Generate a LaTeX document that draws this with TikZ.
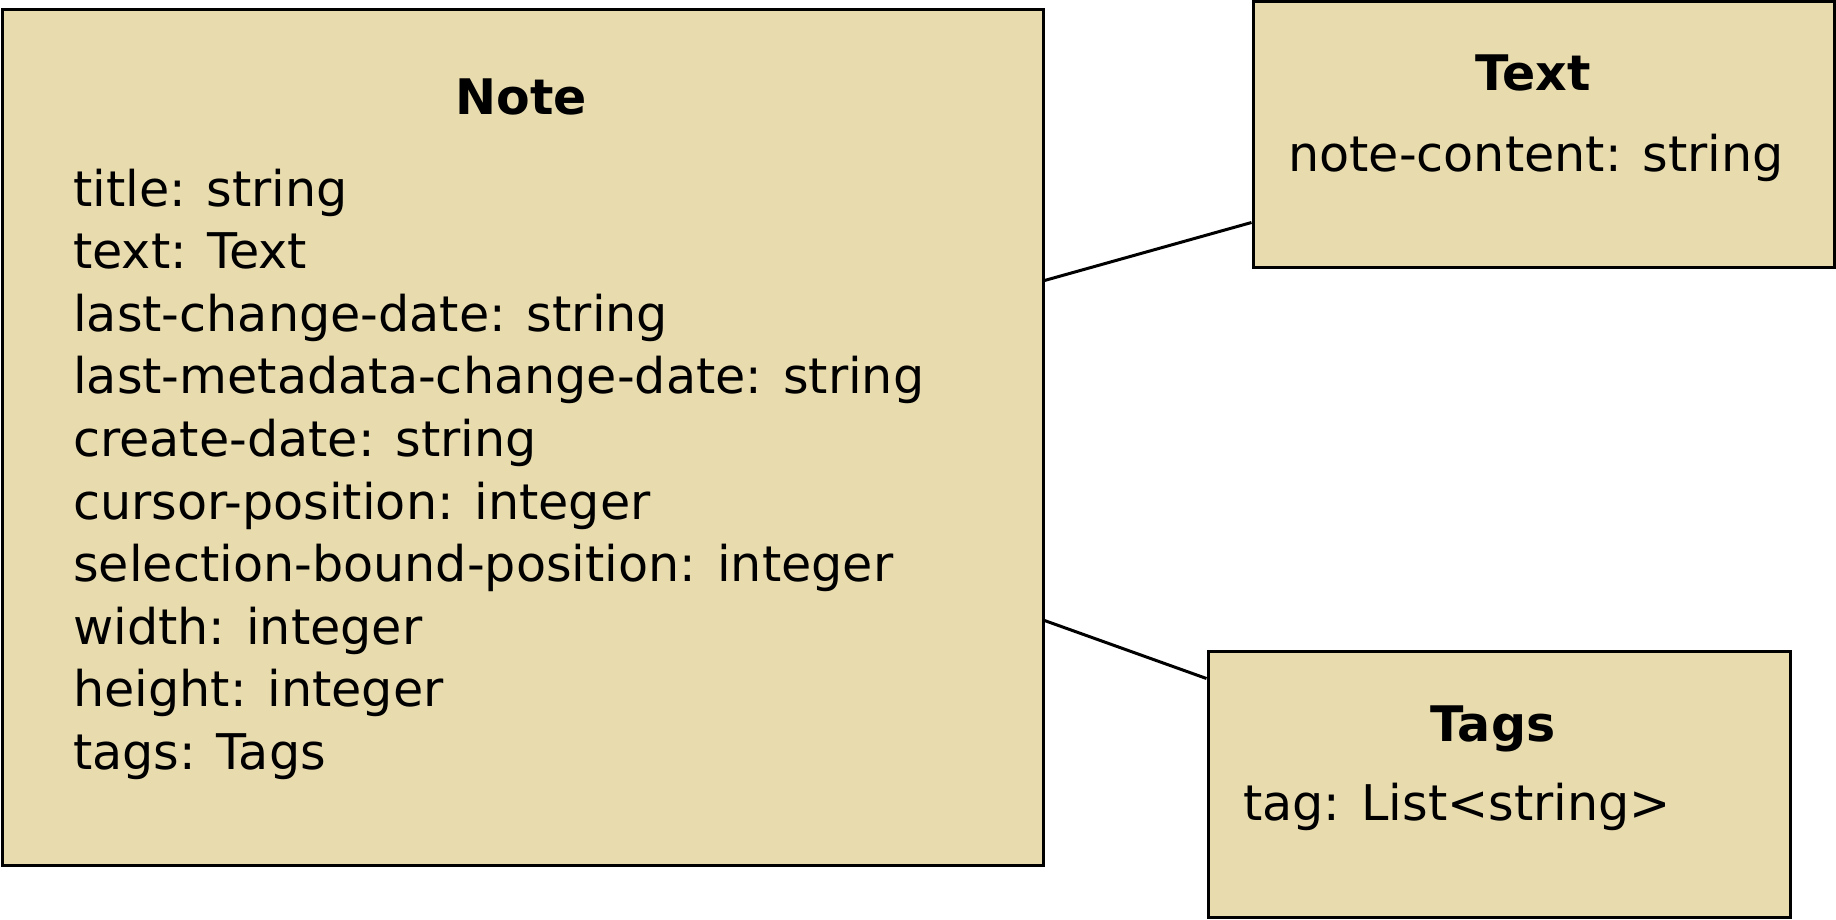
\documentclass[tikz,border=0pt]{standalone}
\usepackage{fontspec}
\setmainfont{DejaVu Sans}
\usetikzlibrary{positioning}
\definecolor{classfill}{HTML}{E8DBAE}

\begin{document}
\begin{tikzpicture}[
  x=1pt,y=-1pt,
  classbox/.style={draw,line width=3pt,fill=classfill,inner sep=0pt,
    minimum width=#1},
  classbox/.default=582pt,
  classname/.style={anchor=base,font=\fontsize{49}{62.7}\selectfont\bfseries,inner sep=0pt},
  attr/.style={anchor=base west,font=\fontsize{49.2}{62.7}\selectfont,inner sep=0pt},
  link/.style={line width=3pt},
]
  \useasboundingbox (0,0) rectangle (1836,919);
  % classes
  \node[classbox=1041pt,minimum height=856pt] (note) at (522.5,437) {};
  \node[classbox=581pt,minimum height=266pt] (text) at (1543.5,134) {};
  \node[classbox,minimum height=266pt] (tags) at (1499,784) {};
  % note
  \node[classname] (note-name) at (521,114) {Note};
  \foreach \attr [count=\i from 0] in {title: string,text: Text,
      last-change-date: string,last-metadata-change-date: string,
      create-date: string,cursor-position: integer,
      selection-bound-position: integer,width: integer,
      height: integer,tags: Tags}
    \node[attr] (note-attr-\i) at (73,206+62.6*\i) {\attr};
  % text
  \node[classname] (text-name) at (1533,90) {Text};
  \node[attr] (text-attr) at (1288,171) {note-content: string};
  % tags
  \node[classname] (tags-name) at (1493,741) {Tags};
  \node[attr] (tags-attr) at (1243,820) {tag: List<string>};
  % links
  \draw[link] ([yshift=-273pt]note.north east) -- ([yshift=46pt]text.south west);
  \draw[link] ([yshift=-613pt]note.north east) -- ([yshift=-29pt]tags.north west);
\end{tikzpicture}
\end{document}
